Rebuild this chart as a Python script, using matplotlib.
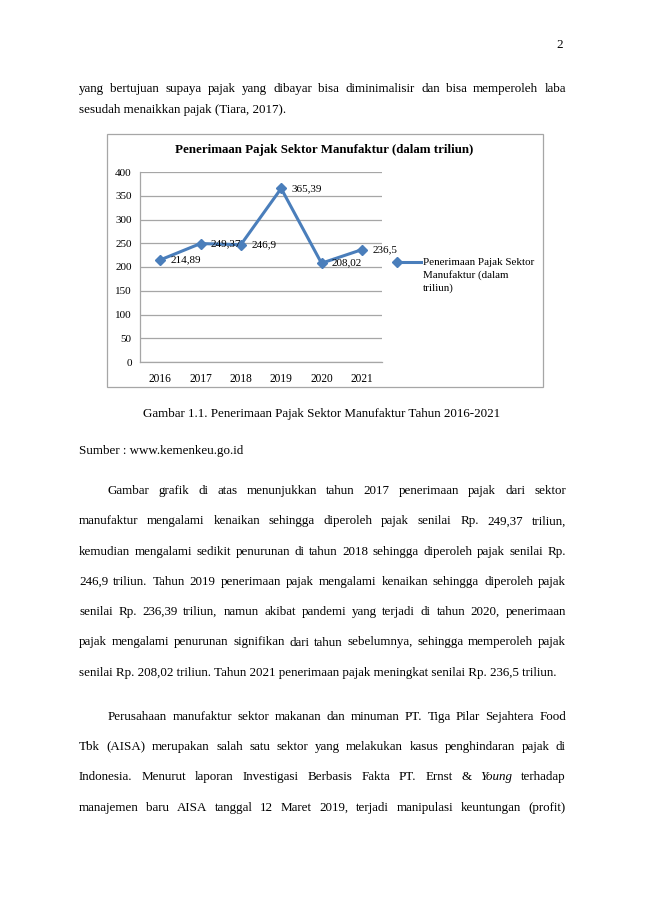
import matplotlib
matplotlib.use('Agg')
import matplotlib.pyplot as plt
from matplotlib.patches import Rectangle
from matplotlib.lines import Line2D

# =====[ Data ]=====
years = ['2016', '2017', '2018', '2019', '2020', '2021']
values = [214.89, 249.37, 246.9, 365.39, 208.02, 236.5]
series_name = 'Penerimaan Pajak Sektor Manufaktur (dalam triliun)'
legend_lines = ['Penerimaan Pajak Sektor', 'Manufaktur (dalam', 'triliun)']
y_ticks = [0, 50, 100, 150, 200, 250, 300, 350, 400]

page_number = '2'
para0 = [
    'yang bertujuan supaya pajak yang dibayar bisa diminimalisir dan bisa memperoleh laba',
    'sesudah menaikkan pajak (Tiara, 2017).',
]
caption = 'Gambar 1.1. Penerimaan Pajak Sektor Manufaktur Tahun 2016-2021'
source = 'Sumber : www.kemenkeu.go.id'
para1 = [
    'Gambar grafik di atas menunjukkan tahun 2017 penerimaan pajak dari sektor',
    'manufaktur mengalami kenaikan sehingga diperoleh pajak senilai Rp. 249,37 triliun,',
    'kemudian mengalami sedikit penurunan di tahun 2018 sehingga diperoleh pajak senilai Rp.',
    '246,9 triliun. Tahun 2019 penerimaan pajak mengalami kenaikan sehingga diperoleh pajak',
    'senilai Rp. 236,39 triliun, namun akibat pandemi yang terjadi di tahun 2020, penerimaan',
    'pajak mengalami penurunan signifikan dari tahun sebelumnya, sehingga memperoleh pajak',
    'senilai Rp. 208,02 triliun. Tahun 2021 penerimaan pajak meningkat senilai Rp. 236,5 triliun.',
]
para2 = [
    'Perusahaan manufaktur sektor makanan dan minuman PT. Tiga Pilar Sejahtera Food',
    'Tbk (AISA) merupakan salah satu sektor yang melakukan kasus penghindaran pajak di',
    'Indonesia. Menurut laporan Investigasi Berbasis Fakta PT. Ernst & *Young terhadap',
    'manajemen baru AISA tanggal 12 Maret 2019, terjadi manipulasi keuntungan (profit)',
]

# =====[ Page setup ]=====
W, H = 650, 919
FONT = 'Liberation Serif'
BODY = 9.4
fig = plt.figure(figsize=(W / 100, H / 100), dpi=100)
renderer = fig.canvas.get_renderer()


def fx(x):
    return x / W


def fy(y):
    return 1 - y / H


def put_line(line, x0, x1, y, justify):
    """Draw one line of body text, y is the baseline in page pixels."""
    if not justify:
        fig.text(fx(x0), fy(y), line.replace('*', ''), fontsize=BODY,
                 family=FONT, va='baseline', ha='left')
        return
    words = line.split(' ')
    items = []
    for w in words:
        style = 'italic' if w.startswith('*') else 'normal'
        t = fig.text(0, 0, w.lstrip('*'), fontsize=BODY, family=FONT,
                     style=style, va='baseline', ha='left')
        items.append((t, t.get_window_extent(renderer).width))
    gap = (x1 - x0 - sum(w for _, w in items)) / (len(items) - 1)
    x = x0
    for t, w in items:
        t.set_position((fx(x), fy(y)))
        x += w + gap


def put_paragraph(lines, y0, step, indent, last_full=False):
    for i, line in enumerate(lines):
        x0 = LEFT + (indent if i == 0 else 0)
        last = i == len(lines) - 1
        put_line(line, x0, RIGHT, y0 + i * step, justify=(not last) or last_full)


LEFT, RIGHT = 79, 566
fig.text(fx(563), fy(48), page_number, fontsize=BODY, family=FONT,
         ha='right', va='baseline')
put_paragraph(para0, 92, 21, 0)
fig.text(fx(322), fy(417), caption, fontsize=BODY, family=FONT,
         ha='center', va='baseline')
fig.text(fx(LEFT), fy(454), source, fontsize=BODY, family=FONT,
         ha='left', va='baseline')
put_paragraph(para1, 494, 30.3, 29)
put_paragraph(para2, 720, 30.2, 29, last_full=True)

# =====[ Chart ]=====
fig.patches.append(Rectangle((fx(107), fy(387)), fx(543) - fx(107), fy(134) - fy(387),
                             transform=fig.transFigure, fill=False,
                             edgecolor='#A6A6A6', linewidth=0.9))
fig.text(fx(324), fy(150), series_name, fontsize=9.4, family=FONT,
         fontweight='bold', ha='center', va='center')

ax = fig.add_axes([fx(140), fy(362), fx(382) - fx(140), fy(172) - fy(362)])
x = list(range(len(years)))
line_color = '#4A7EBB'
ax.plot(x, values, color=line_color, linewidth=2.2, marker='D',
        markersize=5.5, zorder=3)
for xi, v in zip(x, values):
    ax.annotate(f'{v:g}'.replace('.', ','), (xi, v), xytext=(7.5, 0),
                textcoords='offset points', fontsize=8, family=FONT,
                ha='left', va='center', zorder=4)
ax.set_xlim(-0.5, len(years) - 0.5)
ax.set_ylim(0, 400)
ax.set_yticks(y_ticks)
ax.set_xticks(x)
ax.set_xticklabels(years)
for lab in ax.get_yticklabels():
    lab.set_family(FONT)
    lab.set_fontsize(8)
for lab in ax.get_xticklabels():
    lab.set_family(FONT)
    lab.set_fontsize(8.3)
ax.tick_params(axis='y', length=0, pad=6, colors='#000000')
ax.tick_params(axis='x', length=0, pad=8, colors='#000000')
ax.grid(axis='y', color='#A6A6A6', linewidth=0.9)
ax.set_axisbelow(True)
for side in ['top', 'right']:
    ax.spines[side].set_visible(False)
for side in ['left', 'bottom']:
    ax.spines[side].set_color('#A6A6A6')
    ax.spines[side].set_linewidth(0.9)

# legend, marker sits on the first line as in the source
fig.lines.append(Line2D([fx(397), fx(421)], [fy(262), fy(262)],
                        transform=fig.transFigure, color=line_color,
                        linewidth=2.2, marker='D', markersize=5.5,
                        markevery=[0]))
for i, txt in enumerate(legend_lines):
    fig.text(fx(423), fy(262 + i * 13), txt, fontsize=7.9, family=FONT,
             ha='left', va='center')

fig.savefig('out.png', dpi=100)
